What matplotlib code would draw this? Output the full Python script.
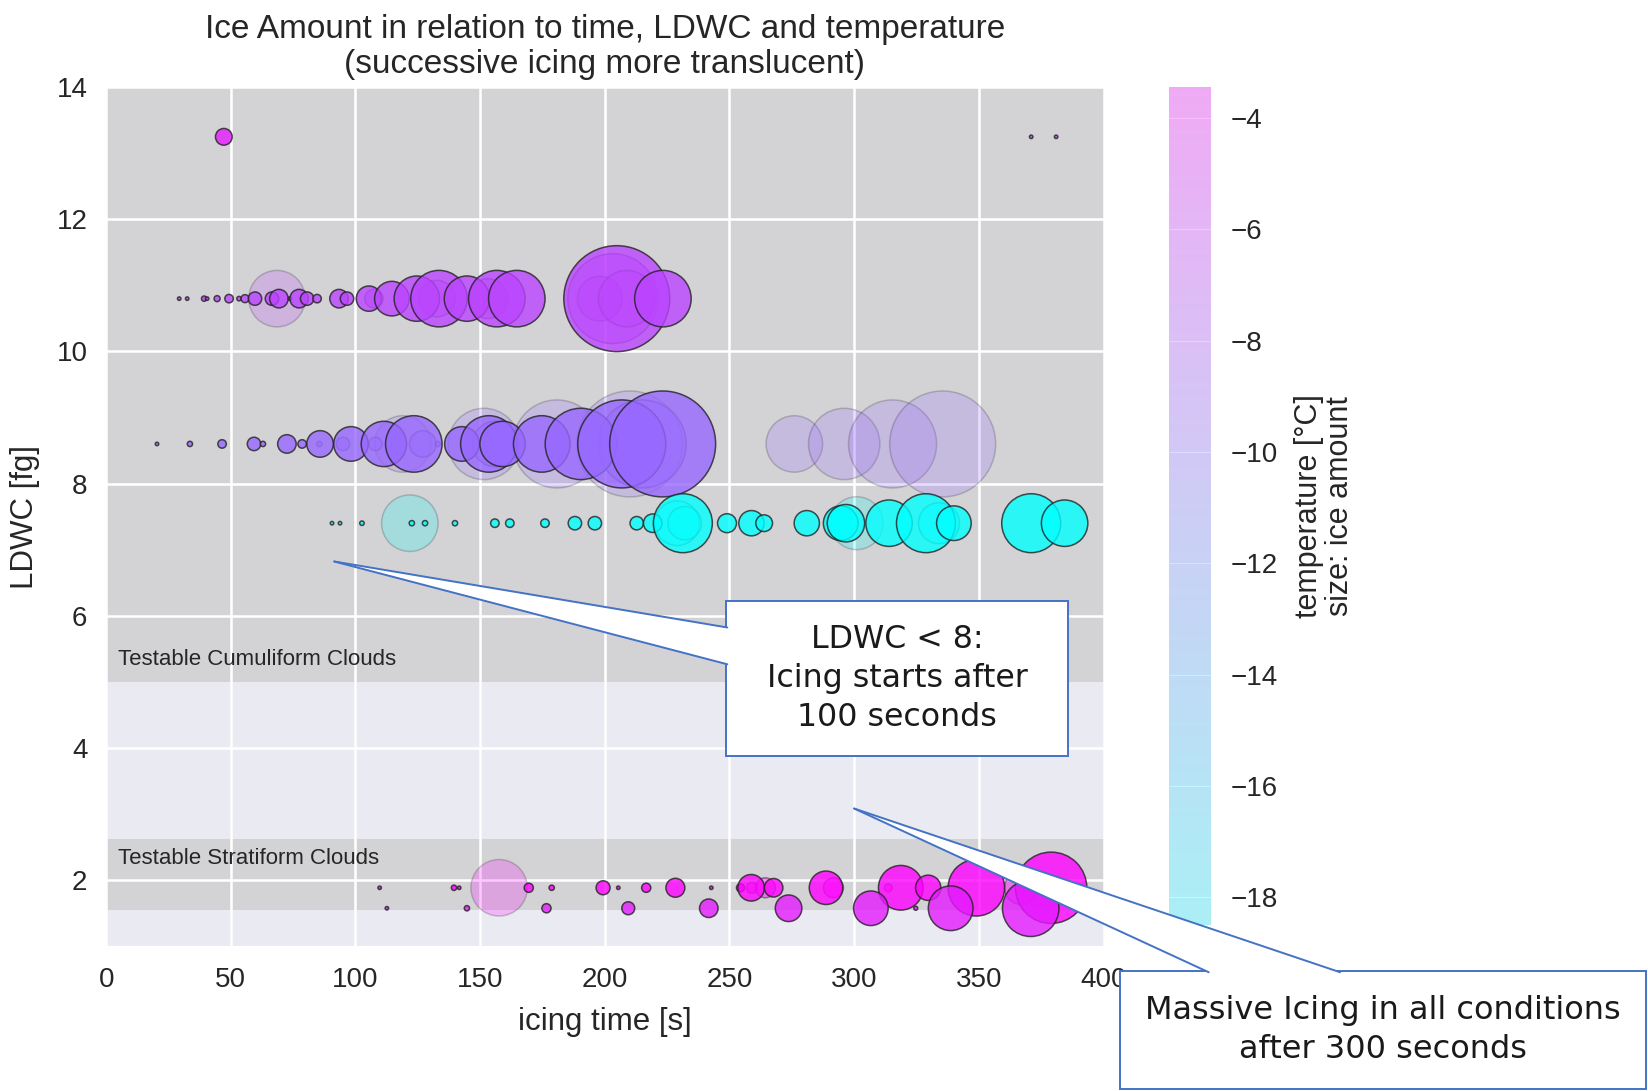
import numpy as np
import matplotlib
matplotlib.use("Agg")
import matplotlib.pyplot as plt
import seaborn as sns
from matplotlib.patches import Polygon, Rectangle
from matplotlib.lines import Line2D

# ---------------- data ----------------
# each row: icing time [s], LDWC [fg], temperature [degC], ice amount (a.u.), icing run (1 = first, higher = successive)
row_a_time = [47.2, 371, 381]
row_a_ice = [70, 3, 3]
row_a_run = [1, 1, 1]
row_a_ldwc = 13.25
row_a_temp = [-5.0, -8.0, -8.0]

row_b_time = [29.3, 32.5, 39.3, 40.5, 44.5, 49.3, 53.3, 55.7, 59.7, 66.5, 68.5, 69.3, 73.7,
              77.4, 80.6, 84.6, 93.4, 96.6, 105.4, 107.4, 114.6, 124.6, 132.7, 133.5, 144.7,
              153.1, 156.7, 164.7, 198, 203.2, 204.8, 208.8, 223.3]
row_b_ice = [3, 3, 7, 3, 9, 18, 5, 16, 45, 45, 800, 86, 3,
             86, 45, 18, 86, 45, 160, 86, 300, 515, 335, 800, 515,
             400, 800, 800, 505, 2025, 2810, 800, 800]
row_b_run = [1, 1, 1, 1, 1, 1, 1, 1, 1, 1, 3, 1, 1,
             1, 1, 1, 1, 1, 1, 2, 1, 1, 2, 1, 1,
             2, 1, 1, 2, 2, 1, 2, 1]
row_b_ldwc = 10.8
row_b_temp = -7.5

row_c_time = [20.4, 33.6, 46.5, 59.3, 62.9, 72.5, 78.6, 85.5, 85.8, 95.0, 98.2, 108.0, 111.4,
              119.0, 123.4, 127.0, 133.0, 142.7, 151.5, 153.5, 156.0, 159.0, 174.7, 180.8,
              190.4, 206.8, 210.0, 215.0, 223.2, 276.0, 296.0, 315.4, 335.5]
row_c_ice = [3, 7, 18, 45, 7, 86, 18, 7, 177, 45, 300, 45, 515,
             800, 800, 177, 7, 300, 1275, 800, 515, 515, 800, 1940,
             1275, 1940, 2810, 1940, 2810, 800, 1275, 1940, 2810]
row_c_run = [1, 1, 1, 1, 1, 1, 1, 2, 1, 2, 1, 2, 1,
             3, 1, 2, 2, 1, 3, 1, 2, 1, 1, 3,
             1, 1, 3, 2, 1, 3, 3, 3, 3]
row_c_ldwc = 8.6
row_c_temp = -9.6

row_d_time = [90.6, 93.8, 102.6, 121.8, 122.6, 127.9, 139.9, 155.9, 161.9, 176.0, 188.0, 196.0,
              212.8, 219.2, 229.0, 231.3, 232.0, 249.0, 258.8, 263.9, 281.0, 294.6, 296.7,
              301.0, 314.0, 328.8, 334.0, 340.0, 371.0, 384.4]
row_d_ice = [3, 3, 5, 800, 7, 7, 7, 18, 18, 18, 45, 45,
             45, 86, 500, 870, 280, 90, 160, 70, 160, 300, 350,
             700, 540, 870, 420, 300, 870, 540]
row_d_run = [1, 1, 1, 3, 1, 1, 1, 1, 1, 1, 1, 1,
             1, 1, 2, 1, 2, 1, 1, 1, 1, 1, 1,
             3, 1, 1, 2, 1, 1, 1]
row_d_ldwc = 7.4
row_d_temp = -18.5

row_e_time = [109.7, 139.5, 141.6, 157.6, 169.5, 178.7, 199.3, 205.4, 216.6, 228.3, 242.7,
              254.4, 258.7, 259.0, 264.4, 267.7, 288.7, 291.7, 313.7, 318.7, 329.7, 349.0,
              367.0, 379.0]
row_e_ice = [3, 7, 3, 800, 21, 7, 49, 3, 21, 90, 3,
             16, 177, 30, 100, 86, 280, 100, 16, 500, 160, 800,
             280, 1275]
row_e_run = [1, 1, 1, 3, 1, 1, 1, 1, 1, 1, 1,
             1, 1, 2, 2, 1, 1, 2, 2, 1, 1, 1,
             2, 1]
row_e_ldwc = 1.88
row_e_temp = -3.5

row_f_time = [112.6, 144.7, 176.6, 209.4, 241.7, 273.7, 306.7, 324.7, 338.7, 370.8]
row_f_ice = [3, 7, 21, 42, 86, 177, 300, 4, 500, 800]
row_f_run = [1, 1, 1, 1, 1, 1, 1, 1, 1, 1]
row_f_ldwc = 1.57
row_f_temp = -5.0

temp_min, temp_max = -18.5, -3.45
cbar_ticks = [-4, -6, -8, -10, -12, -14, -16, -18]
x_ticks = [0, 50, 100, 150, 200, 250, 300, 350, 400]
y_ticks = [2, 4, 6, 8, 10, 12, 14]
cumuliform_band = (5.0, 14.0)
stratiform_band = (1.55, 2.62)

# ---------------- assemble ----------------
def as_row(times, ldwc, temps, ice, run):
    n = len(times)
    t = np.asarray(times, float)
    y = np.full(n, ldwc, float)
    tp = np.asarray(temps if np.ndim(temps) else [temps] * n, float)
    return t, y, tp, np.asarray(ice, float), np.asarray(run, int)

rows = [
    as_row(row_a_time, row_a_ldwc, row_a_temp, row_a_ice, row_a_run),
    as_row(row_b_time, row_b_ldwc, row_b_temp, row_b_ice, row_b_run),
    as_row(row_c_time, row_c_ldwc, row_c_temp, row_c_ice, row_c_run),
    as_row(row_d_time, row_d_ldwc, row_d_temp, row_d_ice, row_d_run),
    as_row(row_e_time, row_e_ldwc, row_e_temp, row_e_ice, row_e_run),
    as_row(row_f_time, row_f_ldwc, row_f_temp, row_f_ice, row_f_run),
]
T = np.concatenate([r[0] for r in rows])
Y = np.concatenate([r[1] for r in rows])
C = np.concatenate([r[2] for r in rows])
I = np.concatenate([r[3] for r in rows])
R = np.concatenate([r[4] for r in rows])

# ---------------- style ----------------
sns.set_style("darkgrid")
plt.rcParams["font.family"] = ["Liberation Sans", "DejaVu Sans"]
text_c = "#262626"

fig = plt.figure(figsize=(16.48, 10.91), dpi=100)
ax = fig.add_axes([0.0644, 0.133, 0.6052, 0.787])

ax.axhspan(*cumuliform_band, color="#d3d3d6", zorder=0.1, lw=0)
ax.axhspan(*stratiform_band, color="#d3d3d6", zorder=0.1, lw=0)

cmap = plt.get_cmap("cool")
norm = matplotlib.colors.Normalize(temp_min, temp_max)
alpha_by_run = {1: 0.8, 2: 0.45, 3: 0.22}
for run in (1, 2, 3):
    m = R == run
    a = alpha_by_run[run]
    ax.scatter(T[m], Y[m], s=I[m] * 2.07, c=C[m], cmap=cmap, norm=norm,
               alpha=a, edgecolors="#222222", linewidths=1.1, zorder=2 + (3 - run) * 0.1)

ax.set_xlim(0, 400)
ax.set_ylim(1, 14)
ax.set_xticks(x_ticks)
ax.set_yticks(y_ticks)
ax.tick_params(labelsize=20, colors=text_c)
ax.tick_params(axis="x", pad=12)
ax.tick_params(axis="y", pad=10)
ax.set_xlabel("icing time [s]", fontsize=22.5, color=text_c, labelpad=10)
ax.set_ylabel("LDWC [fg]", fontsize=22.5, color=text_c, labelpad=12)
ax.set_title("Ice Amount in relation to time, LDWC and temperature\n(successive icing more translucent)",
             fontsize=24, color=text_c, pad=10, linespacing=1.2)
ax.grid(color="white", lw=1.8)

ax.text(4.6, 5.33, "Testable Cumuliform Clouds", fontsize=16, color=text_c, va="center")
ax.text(4.6, 2.33, "Testable Stratiform Clouds", fontsize=16, color=text_c, va="center")

# colorbar
cax = fig.add_axes([0.7092, 0.152, 0.0255, 0.768])
sm = matplotlib.cm.ScalarMappable(norm=norm, cmap=cmap)
cb = fig.colorbar(sm, cax=cax, alpha=0.27, ticks=cbar_ticks)
cb.outline.set_visible(False)
cax.tick_params(labelsize=20, colors=text_c, length=0, pad=14)
cb.set_label("temperature [°C]\nsize: ice amount", fontsize=22, color=text_c, labelpad=12,
             linespacing=1.05)

# ---------------- callouts ----------------
blue = "#4472C4"
to_fig = lambda xy: fig.transFigure.inverted().transform(ax.transData.transform(xy))
def sx(x): return x / 1568
def sy(y): return 1 - y / 1038

def callout(box, base1, base2, tip_data, lines, size):
    x0, y0, x1, y1 = box
    fig.patches.append(Rectangle((sx(x0), sy(y1)), sx(x1) - sx(x0), sy(y0) - sy(y1),
                                 transform=fig.transFigure, facecolor="white",
                                 edgecolor=blue, lw=1.4, zorder=10))
    tip = to_fig(tip_data)
    b1 = (sx(base1[0]), sy(base1[1]))
    b2 = (sx(base2[0]), sy(base2[1]))
    fig.patches.append(Polygon([tip, b1, b2], closed=True, transform=fig.transFigure,
                               facecolor="white", edgecolor="none", zorder=11))
    for b in (b1, b2):
        fig.lines.append(Line2D([tip[0], b[0]], [tip[1], b[1]], transform=fig.transFigure,
                                color=blue, lw=1.4, zorder=12))
    fig.text((sx(x0) + sx(x1)) / 2, (sy(y0) + sy(y1)) / 2, lines, ha="center", va="center",
             fontsize=size, family=["DejaVu Sans"], color="#1a1a1a",
             linespacing=1.32, zorder=13)

callout((691, 572, 1016, 719), (692, 597), (692, 632), (91.5, 6.82),
        "LDWC < 8:\nIcing starts after\n100 seconds", 22.8)
callout((1066, 924, 1566, 1036), (1150, 925), (1275, 925), (300, 3.08),
        "Massive Icing in all conditions\nafter 300 seconds", 23)

fig.savefig("out.png", dpi=100)
